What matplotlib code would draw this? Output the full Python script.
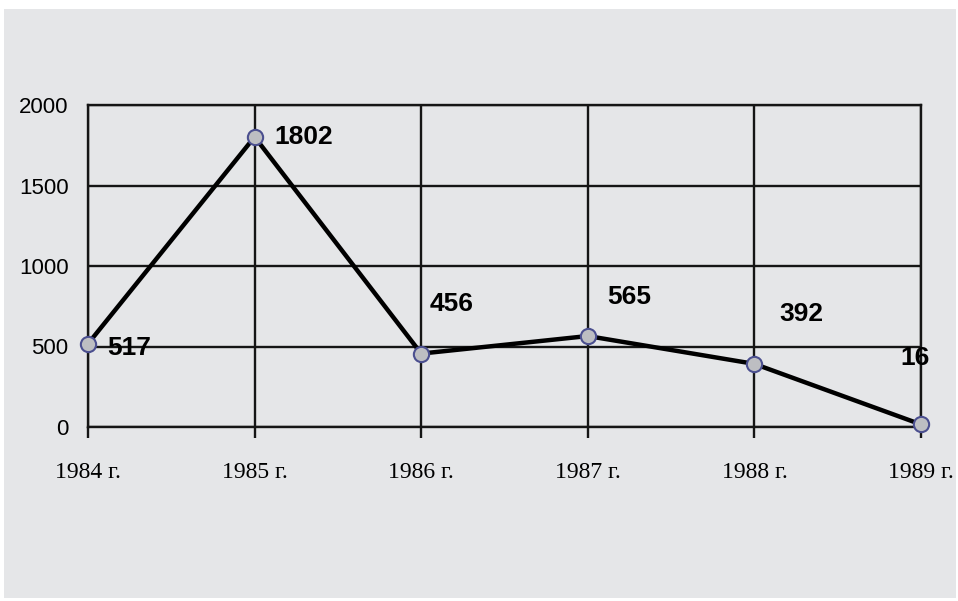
import matplotlib.pyplot as plt
from matplotlib.patches import Rectangle

years = ['1984 г.', '1985 г.', '1986 г.', '1987 г.', '1988 г.', '1989 г.']
values = [517, 1802, 456, 565, 392, 16]
yticks = [0, 500, 1000, 1500, 2000]
# label offsets in points relative to each marker
offsets = [(14, -3), (14, 0), (6, 36), (14, 28), (18, 36), (-15, 48)]

sans = ['Liberation Sans', 'DejaVu Sans']
serif = ['Liberation Serif', 'DejaVu Serif']

fig = plt.figure(figsize=(9.58, 6.01), dpi=100)
fig.patch.set_facecolor('white')
bg = Rectangle((4 / 958, 3 / 601), 952 / 958, 589 / 601,
               transform=fig.transFigure, facecolor='#e5e6e8',
               edgecolor='none', zorder=-10)
fig.add_artist(bg)

ax = fig.add_axes([88 / 958, 1 - 427 / 601, 833 / 958, 322 / 601])
ax.set_facecolor('none')
x = list(range(len(years)))

ax.plot(x, values, color='black', lw=3.2, marker='o', ms=11,
        mfc='#bdbec2', mec='#4b4f8f', mew=1.5, clip_on=False, zorder=5)

for xi, v, (dx, dy) in zip(x, values, offsets):
    ax.annotate(str(v), (xi, v), xytext=(dx, dy), textcoords='offset points',
                ha='left', va='center', fontsize=19,
                fontweight='bold', family=sans, zorder=6)

ax.set_xlim(0, 5)
ax.set_ylim(0, 2000)
ax.set_xticks(x)
ax.set_xticklabels(years, family=serif, fontsize=17)
ax.set_yticks(yticks)
ax.set_yticklabels([str(t) for t in yticks], family=sans, fontsize=16)
ax.grid(True, color='#151515', lw=1.7)
ax.tick_params(axis='x', direction='out', length=8, width=1.7, color='#151515', pad=17)
ax.tick_params(axis='y', length=0, pad=14)
for s in ax.spines.values():
    s.set_color('#151515')
    s.set_linewidth(1.7)

fig.savefig('out.png', dpi=100)
